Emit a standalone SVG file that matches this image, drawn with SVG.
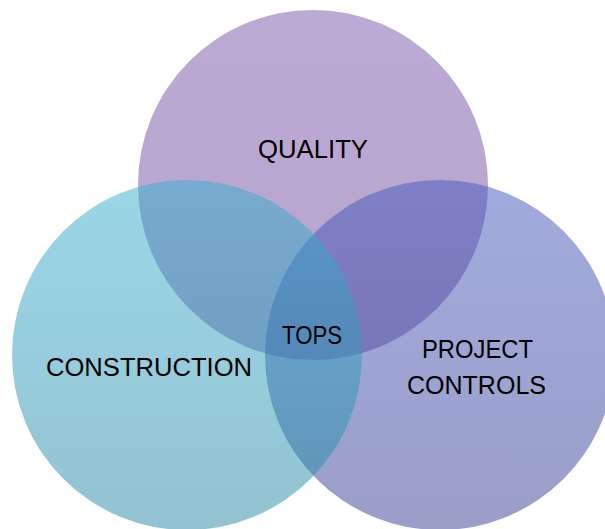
<svg xmlns="http://www.w3.org/2000/svg" width="605" height="529" viewBox="0 0 605 529">
  <defs>
    <linearGradient id="gQ" x1="0" y1="0" x2="0" y2="1">
      <stop offset="0" stop-color="#7A55AA"/>
      <stop offset="1" stop-color="#6E4A9A"/>
    </linearGradient>
    <linearGradient id="gP" x1="0" y1="0" x2="0" y2="1">
      <stop offset="0" stop-color="#4557BD"/>
      <stop offset="1" stop-color="#353F91"/>
    </linearGradient>
    <linearGradient id="gC" x1="0" y1="0" x2="0" y2="1">
      <stop offset="0" stop-color="#37AFCF"/>
      <stop offset="1" stop-color="#2787A3"/>
    </linearGradient>
  </defs>
  <style>
    .c { fill-opacity: 0.5; stroke: none; }
    .t { font-family: "Liberation Sans", Arial, sans-serif; font-size: 26px; fill: #000000; }
  </style>
  <rect x="0" y="0" width="605" height="529" fill="#FFFFFF"/>
  <g id="connectors"></g>
  <g id="quality">
    <circle class="c" cx="313" cy="185" r="175" fill="url(#gQ)"/>
  </g>
  <g id="project-controls">
    <circle class="c" cx="440" cy="355" r="175" fill="url(#gP)"/>
  </g>
  <g id="construction">
    <circle class="c" cx="187" cy="355" r="175" fill="url(#gC)"/>
  </g>
  <g id="labels">
    <text class="t" x="258" y="157.5" textLength="110" lengthAdjust="spacingAndGlyphs">QUALITY</text>
    <text class="t" x="282" y="344" style="font-size:25px" textLength="60" lengthAdjust="spacingAndGlyphs">TOPS</text>
    <text class="t" x="46" y="376" textLength="206" lengthAdjust="spacingAndGlyphs">CONSTRUCTION</text>
    <text class="t" x="422" y="358" textLength="111" lengthAdjust="spacingAndGlyphs">PROJECT</text>
    <text class="t" x="407" y="394" textLength="139" lengthAdjust="spacingAndGlyphs">CONTROLS</text>
  </g>
</svg>
